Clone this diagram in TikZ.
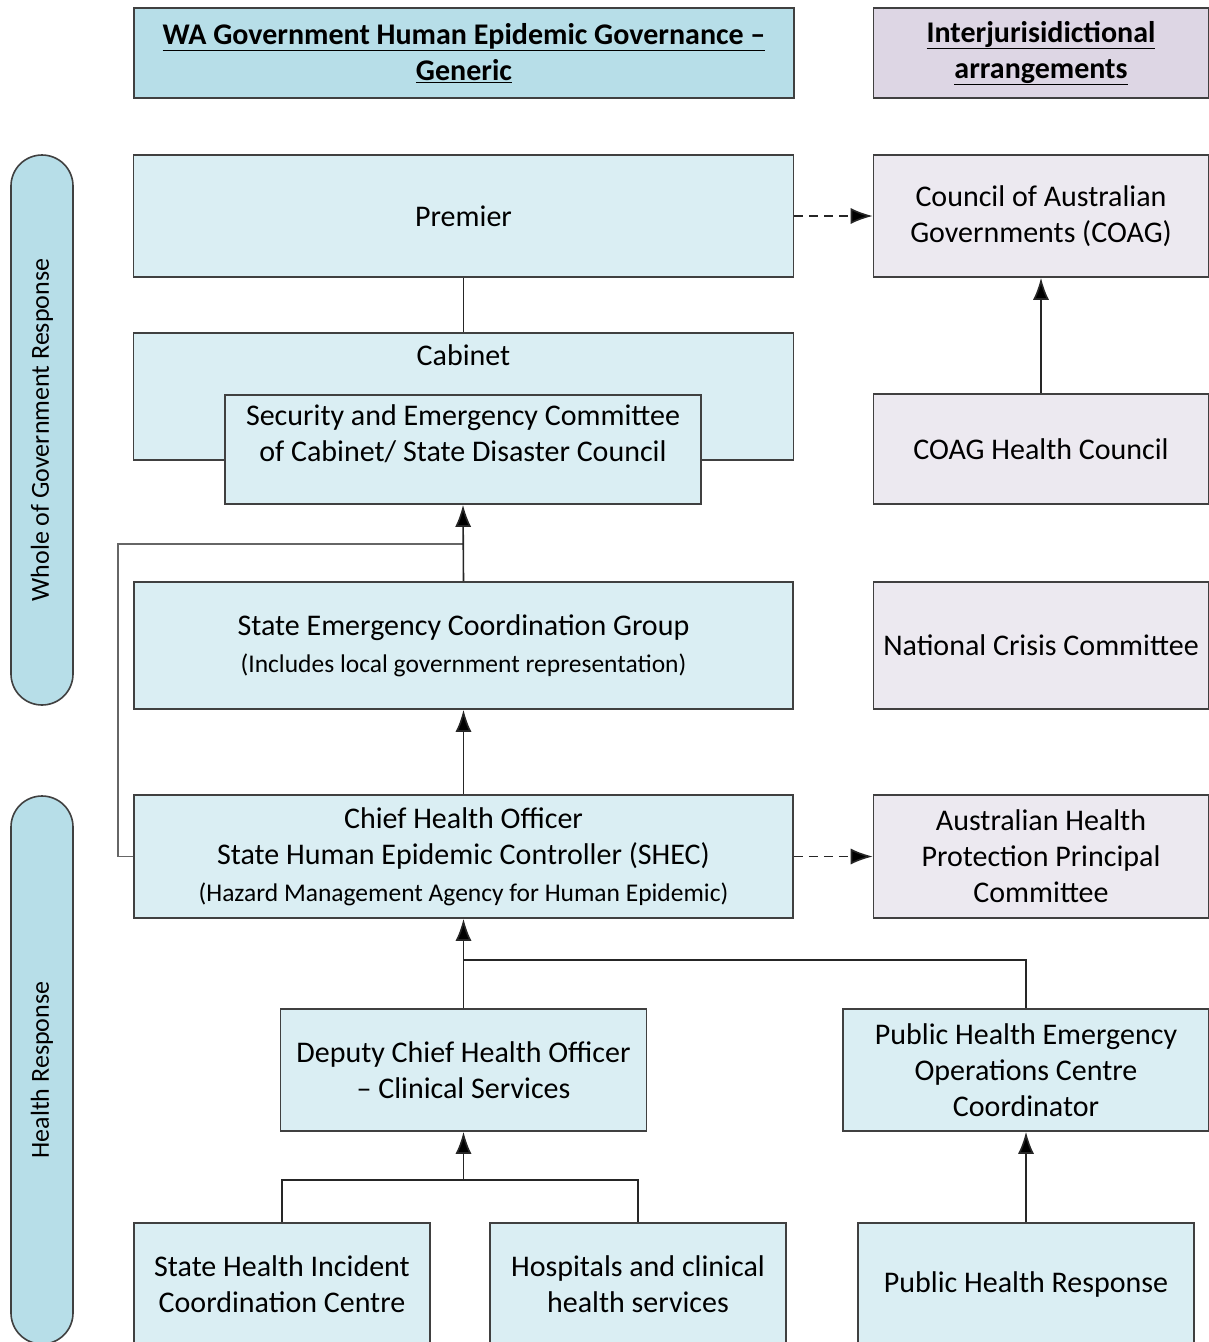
\documentclass[tikz,border=0pt]{standalone}
\usepackage{fontspec}
\setmainfont{Carlito}
\usetikzlibrary{arrows.meta}
\definecolor{hdrblue}{HTML}{B7DEE8}
\definecolor{boxblue}{HTML}{DAEEF3}
\definecolor{hdrpurple}{HTML}{DDD6E4}
\definecolor{boxpurple}{HTML}{ECE9F0}
\definecolor{linec}{HTML}{404040}
\begin{document}
\begin{tikzpicture}[x=1pt,y=-1pt,
  box/.style={draw=linec, line width=1.6pt, inner sep=0pt, align=center, font=\fontsize{30}{36}\selectfont},
  bb/.style={box, fill=boxblue},
  pb/.style={box, fill=boxpurple},
  txt/.style={inner sep=0pt, align=center, font=\fontsize{30}{36}\selectfont},
  hdr/.style={box, font=\fontsize{30}{36}\selectfont\bfseries},
  con/.style={draw=black!85, line width=1.6pt},
  arr/.style={con, -{Latex[length=22pt,width=16pt,fill=black]}},
  dsh/.style={arr, dash pattern=on 9pt off 6pt},
  bar/.style={draw=linec, line width=1.6pt, fill=hdrblue, rounded corners=31pt},
  bartext/.style={rotate=90, font=\fontsize{26}{30}\selectfont}
]
\useasboundingbox (0,0) rectangle (1209,1342);
\clip (0,0) rectangle (1209,1342);

% side bars
\node[bar, minimum width=62pt, minimum height=550pt] (wog) at (42,430) {};
\node[bartext] (wogt) at (42,430) {Whole of Government Response};
\node[bar, minimum width=62pt, minimum height=548pt] (hr) at (42,1070) {};
\node[bartext] (hrt) at (42,1070) {Health Response};

% headers
\node[hdr, fill=hdrblue, minimum width=660pt, minimum height=90pt] (h1) at (464,53)
  {\underline{WA Government Human Epidemic Governance –}\\\underline{Generic}};
\node[hdr, fill=hdrpurple, minimum width=335pt, minimum height=90pt] (h2) at (1041,53)
  {\underline{Interjurisidictional}\\\underline{arrangements}};

% left column
\node[bb, minimum width=660pt, minimum height=122pt] (premier) at (463.5,216) {Premier};
\node[bb, minimum width=660pt, minimum height=127pt] (cabinet) at (463.5,396.5) {};
\node[txt] (cabt) at (463.5,355) {Cabinet};
\node[bb, minimum width=476pt, minimum height=109pt] (sec) at (463,449.5) {};
\node[txt] (sect) at (463,434)
  {Security and Emergency Committee\\of Cabinet/ State Disaster Council};
\node[bb, minimum width=659pt, minimum height=127pt] (secg) at (463.5,645.5)
  {State Emergency Coordination Group\\[1pt]{\fontsize{25.5}{28}\selectfont(Includes local government representation)}};
\node[bb, minimum width=659pt, minimum height=123pt] (cho) at (463.5,856.5)
  {Chief Health Officer\\State Human Epidemic Controller (SHEC)\\[1pt]{\fontsize{25.5}{28}\selectfont(Hazard Management Agency for Human Epidemic)}};
\node[bb, minimum width=366pt, minimum height=122pt] (dcho) at (463.5,1070)
  {Deputy Chief Health Officer\\– Clinical Services};
\node[bb, minimum width=296pt, minimum height=122pt] (shicc) at (282,1284)
  {State Health Incident\\Coordination Centre};
\node[bb, minimum width=296pt, minimum height=122pt] (hosp) at (638,1284)
  {Hospitals and clinical\\health services};

% right column
\node[pb, minimum width=335pt, minimum height=122pt] (coag) at (1041,216)
  {Council of Australian\\Governments (COAG)};
\node[pb, minimum width=335pt, minimum height=110pt] (coaghc) at (1041,449) {COAG Health Council};
\node[pb, minimum width=335pt, minimum height=127pt] (ncc) at (1041,645.5) {National Crisis Committee};
\node[pb, minimum width=335pt, minimum height=123pt] (ahppc) at (1041,856.5)
  {Australian Health\\Protection Principal\\Committee};
\node[bb, minimum width=366pt, minimum height=122pt] (pheoc) at (1026,1070)
  {Public Health Emergency\\Operations Centre\\Coordinator};
\node[bb, minimum width=336pt, minimum height=122pt] (phr) at (1026,1284) {Public Health Response};

% connectors
\coordinate (j1) at (463.5,544);
\coordinate (j2) at (463.5,960);
\coordinate (j3) at (463.5,1180);
\draw[dsh] (premier.east) -- (coag.west);
\draw[con] (premier.south) -- (cabinet.north);
\draw[arr] (coaghc.north) -- (coag.south);
\draw[con, draw=black!60] (cho.west) -- ++(-15,0) |- (j1);
\draw[arr] (secg.north) -- (sec.south);
\draw[arr] (cho.north) -- (secg.south);
\draw[dsh] (cho.east) -- (ahppc.west);
\draw[arr] (dcho.north) -- (cho.south);
\draw[con] (pheoc.north) |- (j2);
\draw[arr] (j3) -- (dcho.south);
\draw[con] (shicc.north) |- (j3) -| (hosp.north);
\draw[arr] (phr.north) -- (pheoc.south);
\end{tikzpicture}
\end{document}
